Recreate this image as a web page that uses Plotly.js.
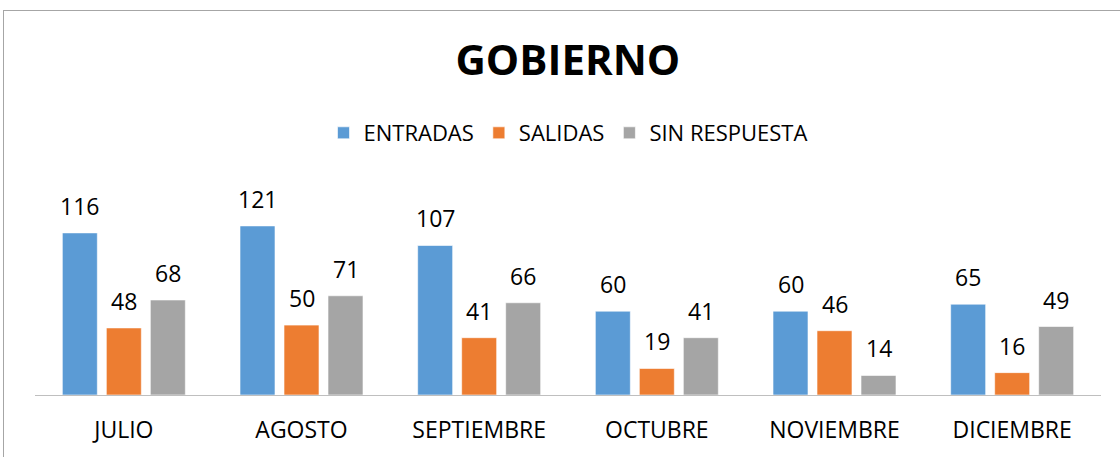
<!DOCTYPE html>
<html><head><meta charset="utf-8">
<script src="https://cdn.plot.ly/plotly-3.0.1.min.js"></script>
<style>
html,body{margin:0;padding:0;background:#fff;overflow:hidden}
#chart{width:1120px;height:457px;position:absolute;left:0;top:0}
#frame{position:absolute;left:3px;top:10px;width:1130px;height:460px;border-left:1px solid #A6A6A6;border-top:1px solid #A6A6A6;pointer-events:none}
</style></head>
<body>
<div id="chart"></div><div id="frame"></div>
<script>
const categories = ["JULIO","AGOSTO","SEPTIEMBRE","OCTUBRE","NOVIEMBRE","DICIEMBRE"];
const entradas = [116,121,107,60,60,65];
const salidas = [48,50,41,19,46,16];
const sinRespuesta = [68,71,66,41,14,49];
const seriesNames = ["ENTRADAS","SALIDAS","SIN RESPUESTA"];
const seriesColors = ["#5B9BD5","#ED7D31","#A5A5A5"];
const seriesValues = [entradas, salidas, sinRespuesta];

const FONT = "Open Sans, Noto Sans, sans-serif";
const traces = seriesValues.map((vals,i)=>({
  type:'bar', name:seriesNames[i], x:categories, y:vals,
  marker:{color:seriesColors[i], line:{color:'rgba(255,255,255,0.6)', width:1}},
  hoverinfo:'none'
}));

const offsets = [-44,0,44];
const annotations = [];
seriesValues.forEach((vals,i)=>{
  vals.forEach((v,j)=>{
    annotations.push({x:categories[j], y:v, xref:'x', yref:'y', text:String(v), showarrow:false,
      xshift:offsets[i], yshift:9, yanchor:'bottom', font:{family:FONT, size:23, color:'#000'}});
  });
});

const layout = {
  width:1120, height:457,
  margin:{l:35, r:19, t:170, b:62},
  paper_bgcolor:'#fff', plot_bgcolor:'#fff',
  barmode:'group', bargap:0.257, bargroupgap:0.2045,
  title:{text:'<b>GOBIERNO</b>', x:0.507, xanchor:'center', y:1-60/457, yanchor:'middle', yref:'container',
    font:{family:FONT, size:42, color:'#000'}},
  legend:{orientation:'h', x:0.5, xanchor:'center', y:1-133/457, yanchor:'middle', yref:'container',
    font:{family:FONT, size:22, color:'#000'}, itemclick:false, itemwidth:30},
  xaxis:{showline:true, linecolor:'#BFBFBF', linewidth:1, ticks:'outside', ticklen:14, tickcolor:'rgba(0,0,0,0)',
    tickfont:{family:FONT, size:23, color:'#000'}, showgrid:false, zeroline:false, fixedrange:true},
  yaxis:{range:[0,161], visible:false, showgrid:false, zeroline:false, fixedrange:true},
  annotations:annotations,
  showlegend:true
};
Plotly.newPlot('chart', traces, layout, {displayModeBar:false, staticPlot:true});
</script>
</body></html>
